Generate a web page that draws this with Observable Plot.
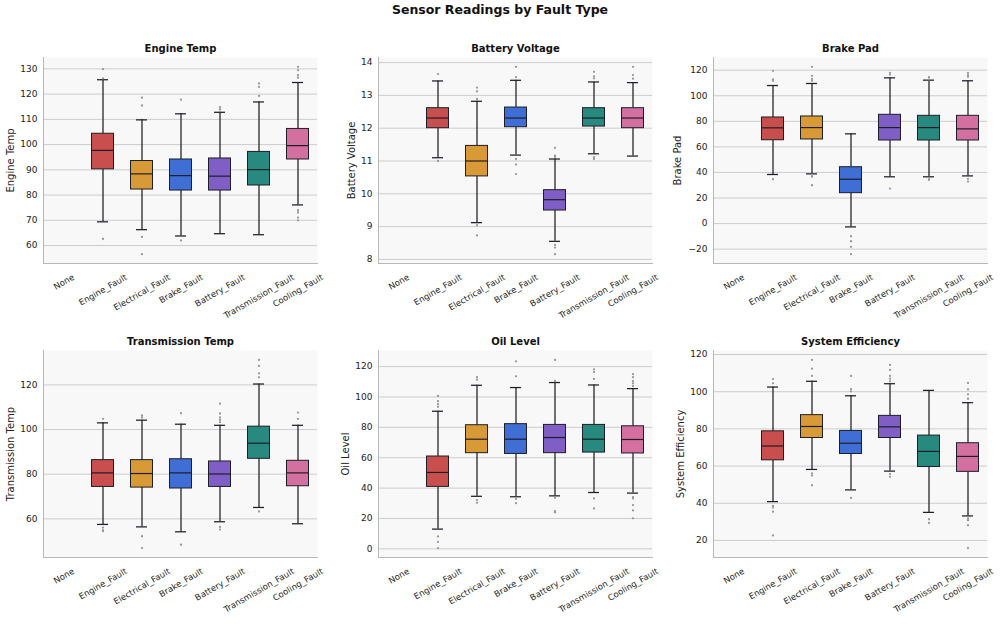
<!DOCTYPE html>
<html>
<head>
<meta charset="utf-8">
<script src="https://cdn.jsdelivr.net/npm/d3@7"></script>
<script src="https://cdn.jsdelivr.net/npm/@observablehq/plot@0.6"></script>
<style>
  html, body { margin: 0; padding: 0; background: #ffffff; }
  #root { position: relative; width: 1000px; height: 626px; overflow: hidden; background: #fff; font-family: "DejaVu Sans", sans-serif; }
  #title { position: absolute; left: 0; top: 2px; width: 1000px; text-align: center; font-weight: bold; font-size: 12.5px; color: #111; }
  .panel { position: absolute; }
</style>
</head>
<body>
<div id="root"><div id="title">Sensor Readings by Fault Type</div></div>
<script>
// ---------- DATA ----------
const categories = ["None", "Engine_Fault", "Electrical_Fault", "Brake_Fault", "Battery_Fault", "Transmission_Fault", "Cooling_Fault"];
const boxCategories = ["Engine_Fault", "Electrical_Fault", "Brake_Fault", "Battery_Fault", "Transmission_Fault", "Cooling_Fault"];
const boxColors = ["#c94f4e", "#d89a36", "#3f6fd4", "#7f5fc6", "#28897f", "#d4709f"];

// each row: [whisker low, Q1, median, Q3, whisker high], in boxCategories order
const engineTempBoxes = [
  [69.4, 90.2, 97.7, 104.3, 125.7],
  [66.3, 82.2, 88.4, 93.5, 109.8],
  [63.8, 81.8, 87.7, 94.1, 112.2],
  [64.7, 81.8, 87.5, 94.5, 112.8],
  [64.3, 83.8, 90.1, 97.1, 116.9],
  [76.1, 94.1, 99.6, 106.2, 124.6]
];
const engineTempOutliers = [
  [62.6, 126.2, 129.9],
  [56.6, 63.4, 115.5, 118.6],
  [62.0, 117.8],
  [113.9, 114.8],
  [119.3, 122.9, 124.2],
  [70.0, 71.1, 73.1, 74.0, 126.5, 127.5, 129.5, 130.8]
];
const engineTempTicks = [60, 70, 80, 90, 100, 110, 120, 130];

const batteryVoltageBoxes = [
  [11.10, 12.00, 12.31, 12.61, 13.44],
  [9.12, 10.53, 11.00, 11.46, 12.82],
  [11.18, 12.03, 12.31, 12.63, 13.46],
  [8.55, 9.49, 9.82, 10.11, 11.06],
  [11.22, 12.05, 12.31, 12.61, 13.41],
  [11.15, 12.00, 12.31, 12.61, 13.39]
];
const batteryVoltageOutliers = [
  [11.00, 13.65],
  [8.73, 9.04, 12.89, 13.12, 13.24],
  [10.60, 10.89, 11.06, 13.56, 13.87],
  [8.16, 8.36, 8.44, 11.12, 11.16, 11.40],
  [11.06, 11.12, 13.52, 13.58, 13.72],
  [13.51, 13.62, 13.87]
];
const batteryVoltageTicks = [8, 9, 10, 11, 12, 13, 14];

const brakePadBoxes = [
  [38.4, 65.2, 74.9, 83.0, 108.0],
  [38.9, 65.8, 75.1, 83.8, 109.6],
  [-2.6, 23.8, 34.7, 44.1, 70.2],
  [36.6, 65.0, 75.1, 85.1, 114.0],
  [36.6, 65.0, 75.1, 84.3, 112.2],
  [37.3, 65.0, 74.1, 84.3, 111.7]
];
const brakePadOutliers = [
  [34.7, 111.7, 112.7, 119.5],
  [30.0, 36.6, 38.1, 111.7, 113.2, 115.6, 122.6],
  [-23.9, -18.2, -13.8, -9.9],
  [27.4, 116.6, 117.9],
  [34.2, 34.7, 112.7, 114.5],
  [32.9, 35.0, 114.8, 116.3, 117.9]
];
const brakePadTicks = [-20, 0, 20, 40, 60, 80, 100, 120];

const transmissionTempBoxes = [
  [57.5, 74.3, 80.6, 86.3, 103.0],
  [56.4, 74.0, 80.3, 86.3, 104.2],
  [54.2, 73.6, 80.6, 86.7, 102.4],
  [58.7, 74.3, 80.1, 85.7, 101.9],
  [65.1, 86.9, 93.9, 101.3, 120.4],
  [57.8, 74.6, 80.6, 86.0, 101.9]
];
const transmissionTempOutliers = [
  [54.5, 54.9, 56.1, 104.8],
  [46.9, 52.2, 105.4, 106.3],
  [48.4, 107.3],
  [55.2, 56.4, 103.3, 104.3, 105.4, 107.2, 111.6],
  [63.3, 123.4, 125.2, 128.5, 131.2],
  [104.8, 107.6]
];
const transmissionTempTicks = [60, 80, 100, 120];

const oilLevelBoxes = [
  [13.0, 40.8, 50.3, 60.8, 90.6],
  [34.6, 63.0, 72.2, 81.4, 107.7],
  [34.3, 62.5, 72.2, 82.1, 106.2],
  [34.9, 63.0, 73.3, 81.6, 109.5],
  [37.1, 63.4, 72.2, 81.6, 107.9],
  [36.7, 62.8, 72.0, 80.7, 105.5]
];
const oilLevelOutliers = [
  [0.5, 4.6, 8.2, 93.5, 95.2, 97.2, 100.7],
  [30.3, 32.1, 111.4, 113.0],
  [30.1, 32.9, 113.6, 123.5],
  [24.0, 24.8, 33.6, 110.5, 124.4],
  [26.6, 33.2, 111.9, 116.5, 118.2],
  [20.1, 25.3, 28.8, 33.2, 34.0, 107.1, 108.9, 110.4, 113.0, 115.0]
];
const oilLevelTicks = [0, 20, 40, 60, 80, 100, 120];

const systemEfficiencyBoxes = [
  [40.9, 63.1, 70.8, 78.7, 102.5],
  [58.2, 75.1, 81.3, 87.4, 105.6],
  [47.2, 66.5, 72.3, 78.9, 97.8],
  [57.3, 75.1, 81.1, 87.0, 104.3],
  [35.1, 59.5, 67.9, 76.4, 100.7],
  [33.2, 56.9, 65.2, 72.3, 94.1]
];
const systemEfficiencyOutliers = [
  [22.7, 35.5, 37.7, 38.6, 104.5, 106.8],
  [49.7, 54.9, 56.0, 108.5, 112.4, 117.1],
  [42.9, 100.2, 101.4, 108.5],
  [54.2, 55.7, 105.6, 107.0, 108.5, 111.7, 114.4],
  [29.4, 31.4],
  [15.9, 28.2, 30.9, 31.8, 96.2, 98.6, 101.3, 104.7]
];
const systemEfficiencyTicks = [20, 40, 60, 80, 100, 120];

// ---------- LAYOUT ----------
const panels = [
  {title: "Engine Temp", boxes: engineTempBoxes, outliers: engineTempOutliers, ticks: engineTempTicks, left: 0, top: 30, width: 330, ml: 43, mr: 13, row: 0, labelDx: -33},
  {title: "Battery Voltage", boxes: batteryVoltageBoxes, outliers: batteryVoltageOutliers, ticks: batteryVoltageTicks, left: 330, top: 30, width: 330, ml: 48, mr: 8, row: 0, labelDx: -27},
  {title: "Brake Pad", boxes: brakePadBoxes, outliers: brakePadOutliers, ticks: brakePadTicks, left: 660, top: 30, width: 340, ml: 53, mr: 13, row: 0, labelDx: -36},
  {title: "Transmission Temp", boxes: transmissionTempBoxes, outliers: transmissionTempOutliers, ticks: transmissionTempTicks, left: 0, top: 325, width: 330, ml: 43, mr: 13, row: 1, labelDx: -33},
  {title: "Oil Level", boxes: oilLevelBoxes, outliers: oilLevelOutliers, ticks: oilLevelTicks, left: 330, top: 325, width: 330, ml: 48, mr: 8, row: 1, labelDx: -33},
  {title: "System Efficiency", boxes: systemEfficiencyBoxes, outliers: systemEfficiencyOutliers, ticks: systemEfficiencyTicks, left: 660, top: 325, width: 340, ml: 53, mr: 13, row: 1, labelDx: -33}
];
const rowDims = [
  {height: 303, mt: 27, mb: 70},
  {height: 301, mt: 25, mb: 69}
];

const canvas = document.createElement("canvas");
const ctx = canvas.getContext("2d");
const xFont = 8.5;
ctx.font = `${xFont}px "DejaVu Sans"`;
const rot = 30 * Math.PI / 180;
function xLabelDy(s) {
  const w = ctx.measureText(s).width;
  const h = xFont * 1.1;
  return 9 + (w * Math.sin(rot) + h * Math.cos(rot)) / 2;
}

const root = document.getElementById("root");
const ink = "#1e1e26";

for (const p of panels) {
  const rd = rowDims[p.row];
  const boxRows = boxCategories.map((c, i) => ({
    cat: c, lo: p.boxes[i][0], q1: p.boxes[i][1], med: p.boxes[i][2], q3: p.boxes[i][3], hi: p.boxes[i][4]
  }));
  const outRows = boxCategories.flatMap((c, i) => p.outliers[i].map(v => ({cat: c, v})));
  const allVals = [...p.boxes.flat(), ...p.outliers.flat()];
  const mn = d3.min(allVals), mx = d3.max(allVals);
  const pad = (mx - mn) * 0.05;

  const xLabelMarks = categories.map(c => Plot.text([c], {
    x: d => d, frameAnchor: "bottom", rotate: -30, textAnchor: "middle", lineAnchor: "middle",
    dy: xLabelDy(c), fontSize: xFont, fill: "#222"
  }));

  const chart = Plot.plot({
    width: p.width,
    height: rd.height,
    marginLeft: p.ml,
    marginRight: p.mr,
    marginTop: rd.mt,
    marginBottom: rd.mb,
    style: {fontFamily: "DejaVu Sans", fontSize: "9px", background: "transparent", overflow: "visible", color: "#222"},
    x: {type: "band", domain: categories, padding: 0, axis: null},
    y: {domain: [mn - pad, mx + pad], axis: null},
    color: {domain: boxCategories, range: boxColors},
    marks: [
      Plot.frame({fill: "#f8f8f8", stroke: null}),
      Plot.ruleY(p.ticks, {stroke: "#cccccc", strokeWidth: 1}),
      Plot.frame({anchor: "left", stroke: "#b8b8b8", strokeWidth: 1}),
      Plot.frame({anchor: "bottom", stroke: "#b8b8b8", strokeWidth: 1}),
      Plot.axisY(p.ticks, {tickSize: 0, tickPadding: 6, fontSize: 9, label: null, fill: "#222"}),
      Plot.ruleX(boxRows, {x: "cat", y1: "lo", y2: "q1", stroke: ink, strokeWidth: 1.25}),
      Plot.ruleX(boxRows, {x: "cat", y1: "q3", y2: "hi", stroke: ink, strokeWidth: 1.25}),
      Plot.tickY(boxRows, {x: "cat", y: "lo", insetLeft: 14, insetRight: 14, stroke: ink, strokeWidth: 1.25}),
      Plot.tickY(boxRows, {x: "cat", y: "hi", insetLeft: 14, insetRight: 14, stroke: ink, strokeWidth: 1.25}),
      Plot.barY(boxRows, {x: "cat", y1: "q1", y2: "q3", fill: "cat", stroke: ink, strokeWidth: 1, insetLeft: 8.5, insetRight: 8.5}),
      Plot.tickY(boxRows, {x: "cat", y: "med", insetLeft: 8.5, insetRight: 8.5, stroke: ink, strokeWidth: 1.2}),
      Plot.dot(outRows, {x: "cat", y: "v", r: 1.15, fill: "#999999", stroke: null}),
      ...xLabelMarks,
      Plot.text([p.title], {frameAnchor: "top", dy: -9, lineAnchor: "middle", fontWeight: "bold", fontSize: 10, fill: "#111"}),
      Plot.text([p.title], {frameAnchor: "left", dx: p.labelDx, rotate: -90, textAnchor: "middle", lineAnchor: "middle", fontSize: 10, fill: "#222"})
    ]
  });
  const div = document.createElement("div");
  div.className = "panel";
  div.style.left = p.left + "px";
  div.style.top = p.top + "px";
  div.appendChild(chart);
  root.appendChild(div);
}
</script>
</body>
</html>
